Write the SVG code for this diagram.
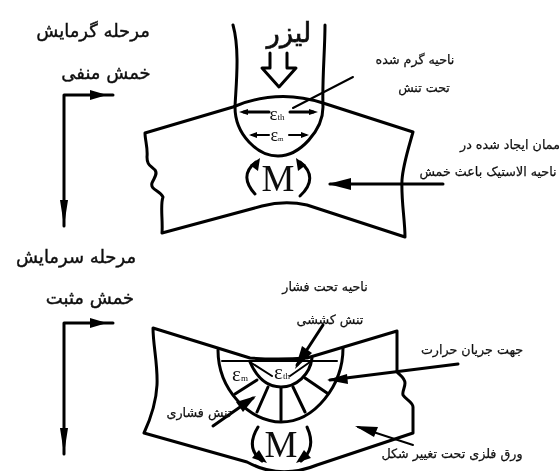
<svg xmlns="http://www.w3.org/2000/svg" width="559" height="471" viewBox="0 0 559 471">
<style>
.l{fill:none;stroke:#000;stroke-width:3;stroke-linejoin:round;stroke-linecap:round}
.t{fill:none;stroke:#000;stroke-width:2;stroke-linecap:round}
.h{fill:#000;stroke:none}
.fa{font-family:"DejaVu Sans",sans-serif;fill:#111;stroke:#111;text-anchor:middle;direction:rtl}
.b{font-size:18px;stroke-width:.4px}
.s{font-size:12.7px;stroke-width:.25px}
.e{font-family:"Liberation Serif",serif;fill:#111;text-anchor:middle}
</style>
<defs>
<filter id="soft" x="0" y="0" width="100%" height="100%"><feGaussianBlur stdDeviation="0.4"/></filter>
</defs>
<rect width="559" height="471" fill="#fff"/>
<g filter="url(#soft)">
<g id="connectors">
<path class="l" d="M113 95H64V226"/>
<path class="h" d="M90 90L107 95L90 100Z"/>
<path class="h" d="M60 200H68L64 226Z"/>
<path class="l" d="M113 323H64V454"/>
<path class="h" d="M90 318L107 323L90 328Z"/>
<path class="h" d="M60 428H68L64 454Z"/>
<path class="t" d="M353 77L293 108"/>
<path class="l" d="M443 184H330"/>
<path class="h" d="M328 184L351 178V190Z"/>
<path class="l" d="M323 325L297 365"/>
<path class="h" d="M295 369L302 346L312 353Z"/>
<path class="l" d="M458 364L330 380"/>
<path class="h" d="M327 380L347 374L348 384Z"/>
<path class="l" d="M213 426L253 398"/>
<path class="h" d="M256 396L243 412L236 402Z"/>
<path class="t" d="M413 445L358 427"/>
<path class="h" d="M355 426L378 427L374 437Z"/>
</g>
<g id="node-top-plate">
<path class="l" d="M145 133L233 107Q278 88 323 103L413 132C408 150 403 165 402 180C401 200 405 220 405 237L307 205Q285 200 262 206L162 233C163 220 160 205 163 197C160 190 150 190 152 183C154 178 158 174 155 170C150 165 147 165 147 157C148 148 145 140 145 133Z"/>
<path class="l" d="M233 25C240 50 236 85 235 107C235 135 258 156 278 156C300 156 323 130 323 107C322 80 325 50 325 25"/>
<path class="l" d="M270 53V68H262L279 87L296 68H287V53"/>
</g>
<g id="node-top-strain">
<path class="l" d="M244 112H269M290 112H313"/>
<path class="h" d="M239 112L248 109V115ZM318 112L309 109V115Z"/>
<path class="t" d="M252 135H269M289 135H306"/>
<path class="h" d="M249 135L257 132V138ZM309 135L301 132V138Z"/>
<text class="e" x="277" y="120" font-size="19">ε<tspan font-size="9">th</tspan></text>
<text class="e" x="277" y="141" font-size="18">ε<tspan font-size="7">m</tspan></text>
</g>
<g id="node-top-moment">
<text class="e" x="278" y="191" font-size="37">M</text>
<path class="l" d="M255 194C245 183 243 172 256 162"/>
<path class="h" d="M260 158L258 171L250 165Z"/>
<path class="l" d="M300 196C313 184 313 172 300 162"/>
<path class="h" d="M296 158L306 165L298 171Z"/>
</g>
<g id="node-bottom-plate">
<path class="l" d="M153 328L250 358Q278 360 307 358L397 331V372C401 376 405 378 405 383C405 388 402 391 403 395C406 400 413 402 413 407V433L317 465Q280 480 247 462L144 433C150 420 156 405 157 385C158 365 153 345 153 328Z"/>
<path class="l" d="M218 350C218 390 250 422 281 422C315 422 343 385 343 348"/>
<path class="l" d="M250 362C257 378 268 387 281 387C296 387 310 375 312 358"/>
<path class="l" d="M257 380L235 394M268 387L257 412M281 388V420M293 387L305 412M305 378L327 393"/>
</g>
<g id="node-bottom-strain">
<path class="t" d="M222 361H337"/>
<path class="t" d="M250 362L272 376M310 362L290 376"/>
<text class="e" x="240" y="381" font-size="21">ε<tspan font-size="9">m</tspan></text>
<text class="e" x="282" y="379" font-size="21">ε<tspan font-size="9">th</tspan></text>
</g>
<g id="node-bottom-moment">
<text class="e" x="281" y="457" font-size="37">M</text>
<path class="l" d="M258 427C250 440 250 452 262 461"/>
<path class="h" d="M267 463L252 458L259 450Z"/>
<path class="l" d="M307 427C313 440 312 452 301 461"/>
<path class="h" d="M296 463L304 450L311 458Z"/>
</g>
<g id="labels">
<text class="fa b" x="93" y="37">مرحله گرمایش</text>
<text class="fa b" x="106" y="79">خمش منفی</text>
<text class="fa b" x="76" y="263">مرحله سرمایش</text>
<text class="fa b" x="90" y="304">خمش مثبت</text>
<text class="fa" x="289" y="42" font-size="27" stroke-width=".7">لیزر</text>
<text class="fa s" x="415" y="64">ناحیه گرم شده</text>
<text class="fa s" x="424" y="92">تحت تنش</text>
<text class="fa s" x="510" y="149">ممان ایجاد شده در</text>
<text class="fa s" x="488" y="176">ناحیه الاستیک باعث خمش</text>
<text class="fa s" x="325" y="291">ناحیه تحت فشار</text>
<text class="fa s" x="330" y="324">تنش کششی</text>
<text class="fa s" x="472" y="354">جهت جریان حرارت</text>
<text class="fa s" x="199" y="417">تنش فشاری</text>
<text class="fa s" x="452" y="458">ورق فلزی تحت تغییر شکل</text>
</g>
</g>
</svg>
